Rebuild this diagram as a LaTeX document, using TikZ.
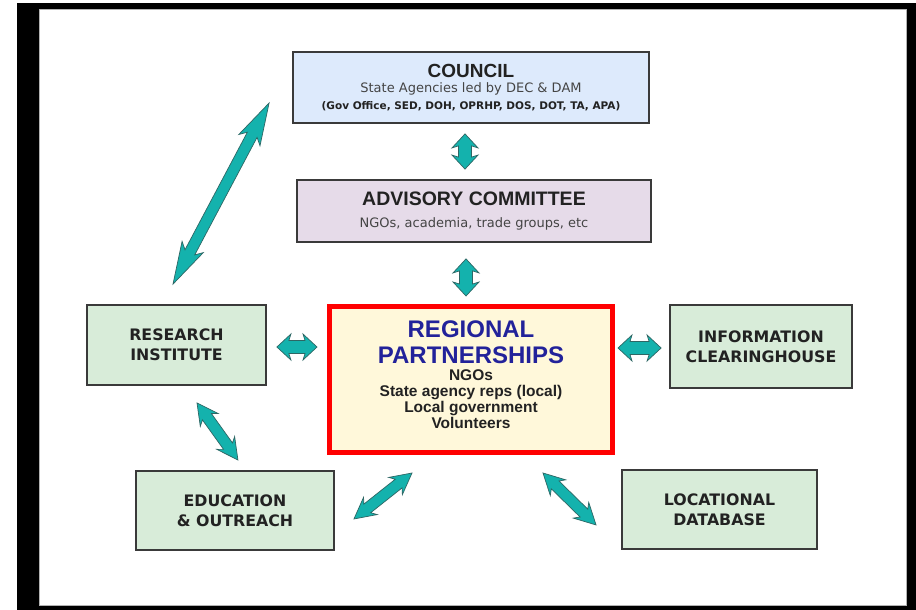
\documentclass[tikz,border=0pt]{standalone}
\usepackage{fontspec}
\setmainfont{DejaVu Sans}
\newfontfamily\arialfont{Liberation Sans}
\usetikzlibrary{calc}

\definecolor{councilblue}{HTML}{DDEAFC}
\definecolor{advlilac}{HTML}{E6DBE9}
\definecolor{regyellow}{HTML}{FFF8DA}
\definecolor{boxgreen}{HTML}{D8ECD9}
\definecolor{arrowteal}{HTML}{14B2AD}
\definecolor{arrowedge}{HTML}{2E6664}
\definecolor{regblue}{HTML}{22229A}
\definecolor{textgray}{HTML}{222222}
\definecolor{subgray}{HTML}{444444}
\definecolor{edgegray}{HTML}{3A3A3A}

\newcommand{\fsz}[2]{\fontsize{#1}{#2}\selectfont}

% block arrow: start, end, head length, head half width, shaft half width, notch
\newcommand{\blockarrow}[6]{%
    \path let \p1=($(#2)-(#1)$) in \pgfextra{%
        \pgfmathsetmacro\barang{atan2(\y1,\x1)}%
        \pgfmathsetmacro\barlen{veclen(\x1,\y1)}%
        \xdef\barang{\barang}\xdef\barlen{\barlen}};
    \draw[tealarrow, shift={(#1)}, rotate=\barang]
        (0,0) -- (#3,#4) -- ({#3-#6},#5) -- ({\barlen-#3+#6},#5) -- ({\barlen-#3},#4)
        -- (\barlen,0) -- ({\barlen-#3},-#4) -- ({\barlen-#3+#6},-#5) -- ({#3-#6},-#5)
        -- (#3,-#4) -- cycle;
}

\begin{document}
\begin{tikzpicture}[x=1pt, y=-1pt]
        \tikzstyle{greybox} = [shape=rectangle, draw=edgegray, line width=1.8pt, align=center, text=textgray]
        \tikzstyle{greenbox} = [greybox, fill=boxgreen, font=\bfseries\fsz{15.8}{20}]
        \tikzstyle{tealarrow} = [fill=arrowteal, draw=arrowedge, line width=0.7pt, line join=miter]

        \useasboundingbox (0,0) rectangle (916,610);
        \fill[black] (17,3) rectangle (916,610);
        \fill[white] (39,9) rectangle (906,605);
        \draw[gray!60, line width=0.8pt] (39,9) rectangle (906,605);

        % top boxes
        \node[greybox, fill=councilblue, minimum width=356, minimum height=71,
              font=\fsz{12}{14}] (council) at (471,87.5)
            {{\arialfont\bfseries\fsz{19}{19}COUNCIL}\\[1pt]
             {\color{subgray}\fsz{13}{13}State Agencies led by DEC \& DAM}\\[3pt]
             {\bfseries\fsz{10.5}{11}(Gov Office, SED, DOH, OPRHP, DOS, DOT, TA, APA)}};
        \node[greybox, fill=advlilac, minimum width=354, minimum height=62,
              font=\fsz{13}{14}] (advisory) at (474,211)
            {{\arialfont\bfseries\fsz{19.5}{19}ADVISORY COMMITTEE}\\[8pt]
             {\color{subgray}NGOs, academia, trade groups, etc}};

        % centre
        \node[shape=rectangle, draw=red, line width=5pt, fill=regyellow, align=center,
              minimum width=283, minimum height=146, text=textgray, text depth=10pt,
              font=\arialfont\bfseries\fsz{15.5}{16}] (regional) at (471,379.5)
            {{\arialfont\bfseries\color{regblue}\fsz{24}{24}REGIONAL}\\[8pt]
             {\arialfont\bfseries\color{regblue}\fsz{24}{24}PARTNERSHIPS}\\[1pt]
             NGOs\\ State agency reps (local)\\ Local government\\ Volunteers};

        % side boxes
        \node[greenbox, minimum width=179, minimum height=80] (research)   at (176.5,345) {RESEARCH\\INSTITUTE};
        \node[greenbox, minimum width=182, minimum height=83] (info)       at (761,346.5) {INFORMATION\\CLEARINGHOUSE};
        \node[greenbox, minimum width=198, minimum height=79] (education)  at (235,510.5) {EDUCATION\\\& OUTREACH};
        \node[greenbox, minimum width=195, minimum height=79] (locational) at (719.5,509.5) {LOCATIONAL\\DATABASE};

        % arrow ends
        \coordinate (ca1) at ($(council.south)+(-6,10)$);
        \coordinate (ca2) at ($(advisory.north)+(-9,-10)$);
        \coordinate (ar1) at ($(advisory.south)+(-8,16)$);
        \coordinate (ar2) at ($(regional.north)+(-5,-8)$);
        \coordinate (rr1) at ($(research.east)+(10,2)$);
        \coordinate (rr2) at ($(regional.west |- rr1)+(-10,0)$);
        \coordinate (ri2) at ($(info.west)+(-8,1.5)$);
        \coordinate (ri1) at ($(regional.east |- ri2)+(3,0)$);
        \coordinate (rc1) at ($(research.north)+(-3.5,-20)$);
        \coordinate (rc2) at ($(council.west)+(-23,15.5)$);
        \coordinate (re1) at ($(research.south)+(20.5,17)$);
        \coordinate (re2) at ($(education.north)+(3,-10)$);
        \coordinate (ge1) at ($(regional.south)+(-59,18)$);
        \coordinate (ge2) at ($(education.east)+(19,8.5)$);
        \coordinate (gl1) at ($(regional.south)+(72,18)$);
        \coordinate (gl2) at ($(locational.west)+(-25,15.5)$);

        % arrows
        \blockarrow{ca1}{ca2}{14}{13}{6.5}{2}
        \blockarrow{ar1}{ar2}{14}{13}{6.5}{2}
        \blockarrow{rr1}{rr2}{14}{13}{6.5}{2}
        \blockarrow{ri1}{ri2}{14}{13}{6.5}{2}
        \blockarrow{rc1}{rc2}{42}{12}{5.5}{6}
        \blockarrow{re1}{re2}{21}{11}{5.5}{4}
        \blockarrow{ge1}{ge2}{21}{11}{5.5}{4}
        \blockarrow{gl1}{gl2}{21}{11}{5.5}{4}

\end{tikzpicture}
\end{document}
